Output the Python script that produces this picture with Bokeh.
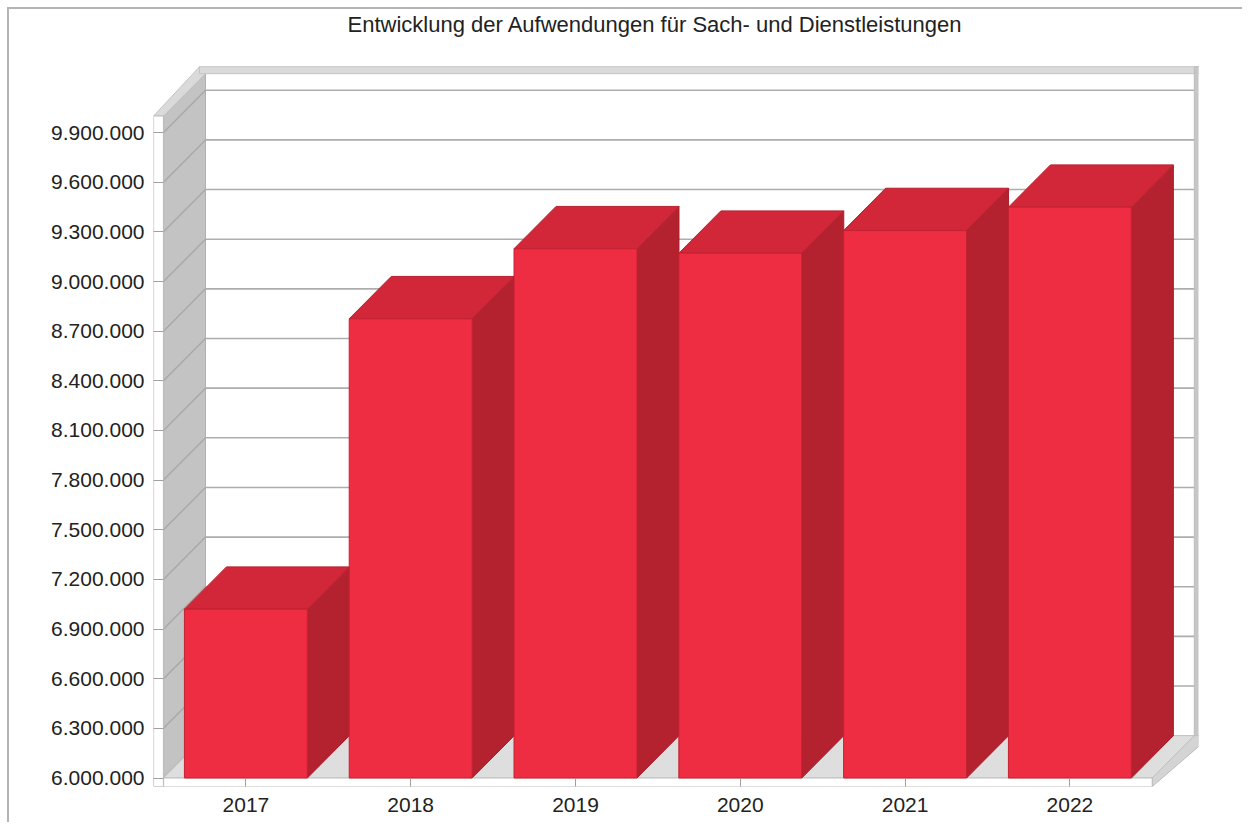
from bokeh.plotting import figure
from bokeh.models import FixedTicker, Range1d, Spacer, Title
from bokeh.layouts import column, row
from bokeh.embed import file_html
from bokeh.resources import INLINE

# ---- data ----
years = ["2017", "2018", "2019", "2020", "2021", "2022"]
values = [7020000, 8775000, 9198000, 9171000, 9308000, 9449000]
y_ticks = [6000000, 6300000, 6600000, 6900000, 7200000, 7500000, 7800000,
           8100000, 8400000, 8700000, 9000000, 9300000, 9600000, 9900000]
y_tick_labels = ["6.000.000", "6.300.000", "6.600.000", "6.900.000", "7.200.000",
                 "7.500.000", "7.800.000", "8.100.000", "8.400.000", "8.700.000",
                 "9.000.000", "9.300.000", "9.600.000", "9.900.000"]
title = "Entwicklung der Aufwendungen für Sach- und Dienstleistungen"

# ---- geometry (data units) ----
PXX = 164.8        # px per category
PXY = 165.5e-6     # px per value unit
X0, X1 = -0.5, len(years) - 0.5
Y0, Y1 = 6000000, 10000000
DX = 42 / PXX
DY = 42.3 / PXY
BW = 0.746
SW = 10 / PXX       # front strip width
SH = 8.5 / PXY      # floor strip height
TW = 7 / PXX        # back wall border width
TH = 7 / PXY

FRAME_W = 1045
FRAME_H = 721
XS = X0 - SW
XE = XS + FRAME_W / PXX
YS = Y0 - SH
YE = YS + FRAME_H / PXY

FONT = "Liberation Sans"
W, H = 1235, 815
ML, MT = 144, 56

p = figure(width=W, height=H, output_backend="svg", toolbar_location=None,
           x_range=Range1d(XS, XE), y_range=Range1d(YS, YE),
           min_border_left=ML, min_border_right=W - ML - FRAME_W,
           min_border_top=MT, min_border_bottom=H - MT - FRAME_H)
p.styles = {"border-top": "2px solid #B4B4B4", "border-left": "2px solid #B4B4B4"}
p.outline_line_color = None
p.background_fill_color = "white"
p.border_fill_color = "white"
p.xgrid.visible = False
p.ygrid.visible = False

p.title.text = title
p.title.align = "left"
p.title.offset = 194
p.title.vertical_align = "bottom"
p.title.standoff = 0
p.title.text_font = FONT
p.title.text_font_size = "22px"
p.title.text_font_style = "normal"
p.title.text_color = "#222222"

# empty spacer between title and frame
p.add_layout(Title(text=" ", text_font_size="1px", standoff=26), "above")

# back wall
p.quad(left=X0 + DX, right=X1 + DX, bottom=Y0 + DY, top=Y1 + DY,
       fill_color="white", line_color=None)
# back wall gridlines
p.segment(x0=[X0 + DX] * len(y_ticks), x1=[X1 + DX] * len(y_ticks),
          y0=[v + DY for v in y_ticks], y1=[v + DY for v in y_ticks],
          line_color="#ADADAD", line_width=1.6)
# left wall
p.patch(x=[X0, X0 + DX, X0 + DX, X0], y=[Y0, Y0 + DY, Y1 + DY, Y1],
        fill_color="#C3C3C3", line_color="#B0B0B0", line_width=1)
p.segment(x0=[X0] * len(y_ticks), x1=[X0 + DX] * len(y_ticks),
          y0=y_ticks, y1=[v + DY for v in y_ticks],
          line_color="#A8A8A8", line_width=1.4)
# floor
p.patch(x=[X0, X1, X1 + DX, X0 + DX], y=[Y0, Y0, Y0 + DY, Y0 + DY],
        fill_color="#DEDEDE", line_color="#C8C8C8", line_width=1)
# top bevel of left wall & back wall
p.patch(x=[X0 - SW, X0, X0 + DX, X0 + DX - SW * 0.6],
        y=[Y1, Y1, Y1 + DY, Y1 + DY + TH],
        fill_color="#DADADA", line_color="#C4C4C4", line_width=1)
p.quad(left=X0 + DX - SW * 0.6, right=X1 + DX + TW, bottom=Y1 + DY, top=Y1 + DY + TH,
       fill_color="#DADADA", line_color="#C4C4C4", line_width=1)
# right border of back wall
p.quad(left=X1 + DX, right=X1 + DX + TW, bottom=Y0 + DY - SH, top=Y1 + DY + TH,
       fill_color="#C6C6C6", line_color="#BDBDBD", line_width=1)
# floor right bevel
p.patch(x=[X1, X1, X1 + DX, X1 + DX + TW, X1 + DX + TW],
        y=[Y0 - SH, Y0, Y0 + DY, Y0 + DY, Y0 + DY - SH],
        fill_color="#D4D4D4", line_color="#BDBDBD", line_width=1)
# front strips
p.quad(left=X0 - SW, right=X1, bottom=Y0 - SH, top=Y0,
       fill_color="white", line_color="#BDBDBD", line_width=1.2)
p.quad(left=X0 - SW, right=X0, bottom=Y0 - SH, top=Y1,
       fill_color="white", line_color="#BDBDBD", line_width=1.2)

# bars
idx = list(range(len(years)))
top_xs, top_ys, side_xs, side_ys = [], [], [], []
for i, v in zip(idx, values):
    l, r = i - BW / 2, i + BW / 2
    top_xs.append([l, r, r + DX, l + DX])
    top_ys.append([v, v, v + DY, v + DY])
    side_xs.append([r, r + DX, r + DX, r])
    side_ys.append([Y0, Y0 + DY, v + DY, v])
for i in idx:
    p.patch(x=side_xs[i], y=side_ys[i], fill_color="#B5222F",
            line_color="#A81D2A", line_width=1)
    p.patch(x=top_xs[i], y=top_ys[i], fill_color="#D12738",
            line_color="#B8212F", line_width=1)
    p.quad(left=i - BW / 2, right=i + BW / 2, bottom=Y0, top=values[i],
           fill_color="#EE2C42", line_color="#C42232", line_width=1)

# axes
p.xaxis.ticker = FixedTicker(ticks=idx)
p.xaxis.major_label_overrides = {i: y for i, y in zip(idx, years)}
p.xaxis.minor_tick_line_color = None
p.xaxis.axis_line_color = None
p.xaxis.major_tick_in = 8
p.xaxis.major_tick_out = 0
p.xaxis.major_tick_line_color = "#A0A0A0"
p.xaxis.major_label_standoff = 11
p.xaxis.major_label_text_font = FONT
p.xaxis.major_label_text_font_size = "21px"
p.xaxis.major_label_text_color = "#222222"

p.yaxis.ticker = FixedTicker(ticks=y_ticks)
p.yaxis.major_label_overrides = {t: s for t, s in zip(y_ticks, y_tick_labels)}
p.yaxis.minor_tick_line_color = None
p.yaxis.axis_line_color = None
p.yaxis.major_tick_in = 10
p.yaxis.major_tick_out = 0
p.yaxis.major_tick_line_color = "#A0A0A0"
p.yaxis.major_label_standoff = 9
p.yaxis.major_label_text_font = FONT
p.yaxis.major_label_text_font_size = "21px"
p.yaxis.major_label_text_color = "#222222"

root = column(Spacer(height=7, width=1244), row(Spacer(width=7, height=H), p))
open("out.html", "w").write(file_html(root, INLINE))
